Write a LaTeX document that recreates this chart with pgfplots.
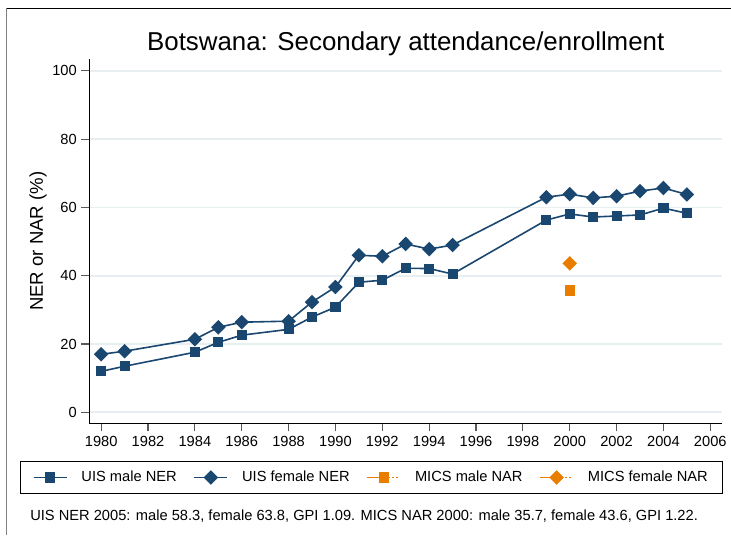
\documentclass[border=0pt]{standalone}
\usepackage{pgfplots}
\usepackage{pgfplotstable}
\pgfplotsset{compat=1.18}
\usepackage{fontspec}
\setmainfont{Liberation Sans}

\definecolor{stnavy}{RGB}{26,71,111}
\definecolor{storange}{RGB}{232,125,0}
\definecolor{gridc}{RGB}{232,239,241}

% legend key for the MICS points: solid stub, marker, dotted stub
\pgfplotsset{micslegend/.style={legend image code/.code={
    \draw[##1, solid] (0pt,0pt) -- (12.4pt,0pt);
    \draw[##1, dotted] (12.4pt,0pt) -- (24.8pt,0pt);
    \draw[##1] plot[only marks] coordinates {(12.4pt,0pt)};
}}}

% UIS net enrolment ratio, secondary
\pgfplotstableread{
year male female
1980 12.0 17.0
1981 13.5 17.9
1984 17.6 21.4
1985 20.5 24.9
1986 22.6 26.4
1988 24.3 26.7
1989 27.9 32.3
1990 30.8 36.7
1991 38.1 46.0
1992 38.7 45.7
1993 42.2 49.3
1994 42.1 47.8
1995 40.5 49.0
1999 56.3 63.0
2000 58.1 63.9
2001 57.2 62.8
2002 57.5 63.3
2003 57.8 64.8
2004 59.8 65.7
2005 58.3 63.8
}\uis

\begin{document}
\begin{tikzpicture}
\begin{axis}[
    at={(67.1pt,83.8pt)}, anchor=south west,
    scale only axis, width=474.4pt, height=273pt,
    xmin=1979.5, xmax=2006.5, ymin=-3.2, ymax=103.4,
    xtick={1980,1982,...,2006}, ytick={0,20,...,100},
    /pgf/number format/1000 sep={},
    /pgf/number format/assume math mode=true,
    axis x line*=bottom, axis y line*=left,
    axis line style={black, line width=0.75pt},
    tick align=outside, major tick length=6pt,
    tick style={black!65, line width=0.9pt},
    tick label style={font=\fontsize{11}{13}\selectfont},
    ymajorgrids, grid style={gridc, line width=1.3pt},
    title={Botswana: Secondary attendance/enrollment},
    title style={font=\fontsize{19.4}{22}\selectfont, at={(0.5,1)}, anchor=base, yshift=0.5pt},
    ylabel={NER or NAR (\%)},
    every axis y label/.style={at={(axis description cs:-0.0814,0.5)}, rotate=90, anchor=center,
        font=\fontsize{13.9}{16}\selectfont},
    legend columns=4,
    legend style={at={(axis description cs:0.446,-0.149)}, anchor=center,
        draw=black, line width=0.75pt, fill=white,
        font=\fontsize{11}{13}\selectfont,
        inner xsep=9pt, inner ysep=5.5pt,
        /tikz/every odd column/.append style={column sep=8.5pt},
        /tikz/every even column/.append style={column sep=10.5pt}},
    legend image code/.code={
        \draw[mark repeat=2, mark phase=2, #1] plot coordinates {(0pt,0pt) (12.4pt,0pt) (24.8pt,0pt)};
    },
]
\addplot[stnavy, line width=1.2pt, mark=square*, mark size=3.2pt,
    mark options={solid, fill=stnavy}] table[x=year, y=male] {\uis};
\addlegendentry{UIS male NER}
\addplot[stnavy, line width=1.2pt, mark=diamond*, mark size=4.6pt,
    mark options={solid, fill=stnavy, xscale=1.33}] table[x=year, y=female] {\uis};
\addlegendentry{UIS female NER}
\addplot[storange, line width=1.2pt, mark=square*, mark size=3.2pt,
    mark options={solid, fill=storange}, micslegend] coordinates {(2000,35.7)};
\addlegendentry{MICS male NAR}
\addplot[storange, line width=1.2pt, mark=diamond*, mark size=4.6pt,
    mark options={solid, fill=storange, xscale=1.33}, micslegend] coordinates {(2000,43.6)};
\addlegendentry{MICS female NAR}
\end{axis}
\node[anchor=base west, font=\fontsize{11}{13}\selectfont, inner sep=0pt] at (22.5pt,11.25pt)
    {UIS NER 2005: male 58.3, female 63.8, GPI 1.09. MICS NAR 2000: male 35.7, female 43.6, GPI 1.22.};
\draw[black, line width=1pt] (4.5pt,395pt) -- (548.25pt,395pt);
\draw[black!50, line width=0.8pt] (4.9pt,395pt) -- (4.9pt,0pt);
\pgfresetboundingbox
\useasboundingbox (0,0) rectangle (548.25pt,401.25pt);
\end{tikzpicture}
\end{document}
